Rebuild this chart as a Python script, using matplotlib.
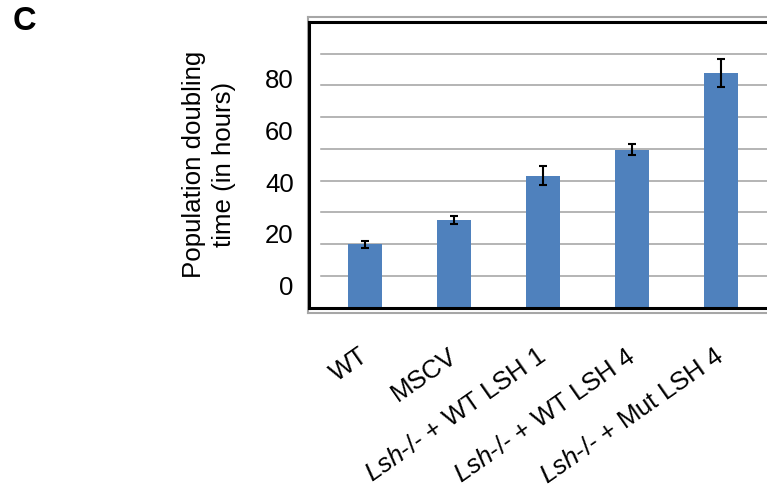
import numpy as np
import matplotlib
matplotlib.use("Agg")
import matplotlib.pyplot as plt
from matplotlib.lines import Line2D
from matplotlib.transforms import ScaledTranslation

plt.rcParams['font.family'] = ['Liberation Sans', 'DejaVu Sans']
plt.rcParams['mathtext.fontset'] = 'custom'
plt.rcParams['mathtext.it'] = 'Liberation Sans:italic'
plt.rcParams['mathtext.rm'] = 'Liberation Sans'

# ---- data ----
categories = ["WT", "MSCV",
              r"$\mathit{Lsh}$-/- + WT LSH 1",
              r"$\mathit{Lsh}$-/- + WT LSH 4",
              r"$\mathit{Lsh}$-/- + Mut LSH 4"]
doubling_time = [15.9, 25.3, 42.4, 52.5, 82.2]
errors = [1.2, 1.5, 3.7, 2.2, 5.4]
ytick_values = [0, 20, 40, 60, 80]
ylabel_text = "Population doubling\ntime (in hours)"
panel_label = "C"

W, H = 767, 491
fig = plt.figure(figsize=(W / 100, H / 100), dpi=100)

# axes geometry in pixels
ax_left, ax_right = 309, 777
ax_top, ax_bottom = 21.8, 307.8
ax = fig.add_axes([ax_left / W, 1 - ax_bottom / H,
                   (ax_right - ax_left) / W, (ax_bottom - ax_top) / H])

ymin, ymax = -8.6, 102.0
x = np.arange(len(categories))
vals = np.array(doubling_time)

ax.bar(x, vals - ymin, bottom=ymin, width=0.39, color="#4F81BD", zorder=2)
ax.errorbar(x, vals, yerr=errors, fmt="none", ecolor="black",
            elinewidth=1.5, capsize=2.6, capthick=1.5, zorder=3)

ax.set_xlim(-0.63, 4.63)
ax.set_ylim(ymin, ymax)

# gridlines (Excel-style, 9 equal intervals, inset from left axis)
for g in np.linspace(ymin, ymax, 10)[1:-1]:
    ax.axhline(g, xmin=0.026, xmax=1, color="#a0a0a0", lw=1.1, zorder=1)

ax.set_yticks(ytick_values)
ax.set_yticklabels([str(v) for v in ytick_values], fontsize=18.5)
ax.tick_params(axis="y", length=0, pad=11)

ax.set_xticks(x)
ax.set_xticklabels(categories, fontsize=18.5, rotation=35,
                   ha="right", va="top", rotation_mode="anchor")
ax.tick_params(axis="x", length=0, pad=26)
shift = ScaledTranslation(-0.06, 0, fig.dpi_scale_trans)
for lab in ax.get_xticklabels():
    lab.set_transform(lab.get_transform() + shift)

for s in ["left", "top", "bottom"]:
    ax.spines[s].set_linewidth(2.2)
    ax.spines[s].set_color("black")
ax.spines["right"].set_visible(False)

ax.set_ylabel(ylabel_text, fontsize=18.6, linespacing=1.35)
ax.yaxis.label.set_va("center")
ax.yaxis.set_label_coords((209 - ax_left) / (ax_right - ax_left), 0.5)

# outer gray chart-area frame
gx, gt, gb = 307.5, 16.8, 313.3
gray = "#a6a6a6"
fig.add_artist(Line2D([gx / W, 1.01], [1 - gt / H, 1 - gt / H], color=gray, lw=1.5,
                      transform=fig.transFigure, zorder=0))
fig.add_artist(Line2D([gx / W, 1.01], [1 - gb / H, 1 - gb / H], color=gray, lw=1.5,
                      transform=fig.transFigure, zorder=0))
fig.add_artist(Line2D([gx / W, gx / W], [1 - gt / H, 1 - gb / H], color=gray, lw=1.5,
                      transform=fig.transFigure, zorder=0))

fig.text(24 / W, 1 - 21 / H, panel_label, fontsize=23.5, fontweight="bold",
         ha="center", va="center")

fig.savefig("out.png", dpi=100)
